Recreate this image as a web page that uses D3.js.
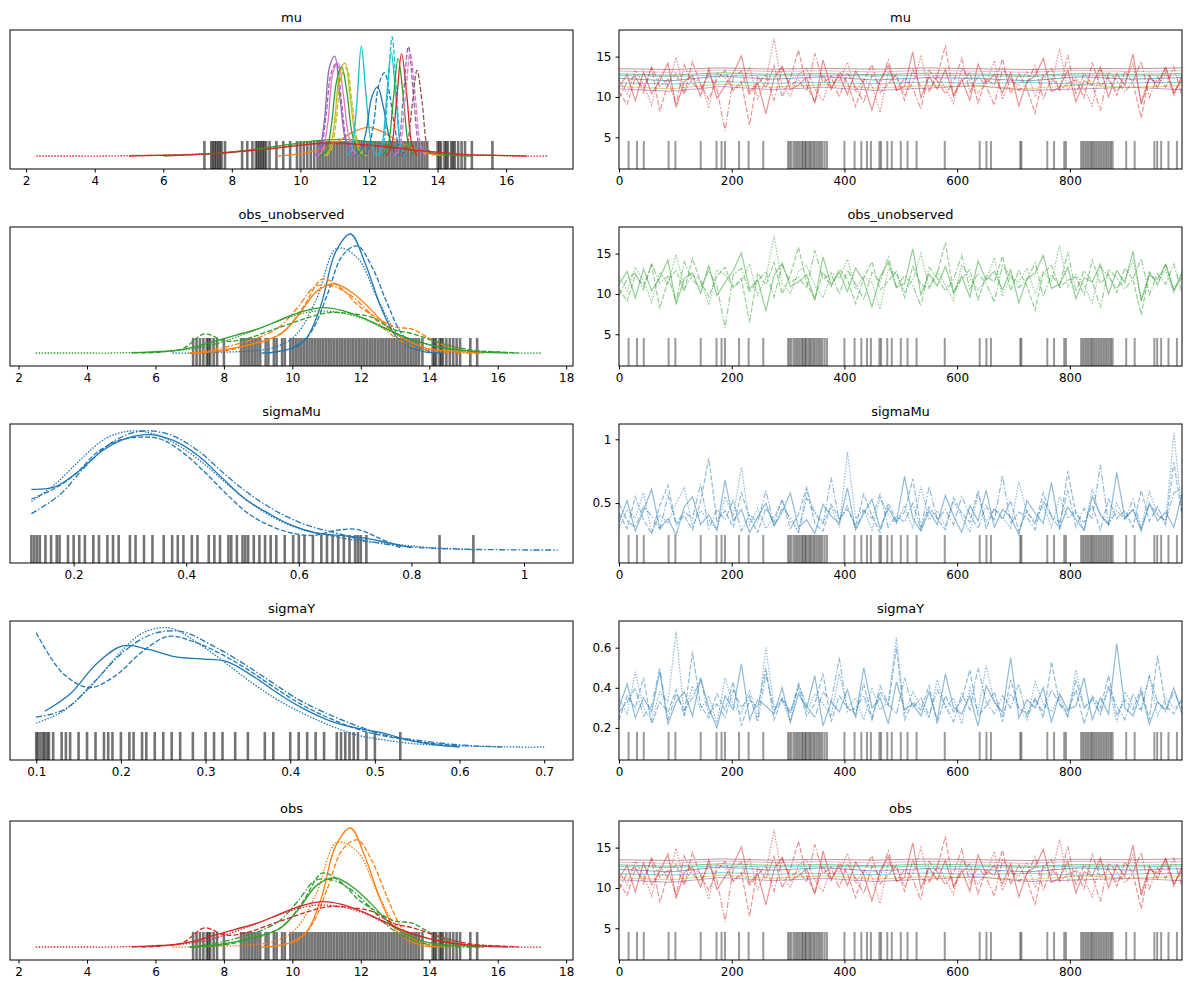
<!DOCTYPE html>
<html><head><meta charset="utf-8">
<script src="https://cdn.jsdelivr.net/npm/d3@7"></script>
<style>body{margin:0;background:#fff}text{font-family:"DejaVu Sans",sans-serif}</style>
</head><body><svg width="1189" height="989"></svg>
<script>
const tab10 = ['#1f77b4','#ff7f0e','#2ca02c','#d62728','#9467bd','#8c564b','#e377c2','#7f7f7f','#bcbd22','#17becf'];
const dashes = [null, '5,2', '1.5,1.5', '6,2,1.5,2'];

const titles = ['mu', 'obs_unobserved', 'sigmaMu', 'sigmaY', 'obs'];

// KDE curves: [x0, x1, chain, colour, densities on an even grid]
const muKde = [
  [2.3, 17.2, 2, 3, [0,0,0,0.005,0.01,0.02,0.04,0.07,0.1,0.1,0.08,0.05,0.02,0.01,0,0]],
  [6.0, 15.0, 0, 2, [0,0.01,0.02,0.04,0.07,0.1,0.13,0.14,0.12,0.08,0.04,0.01,0]],
  [9.3, 14.2, 0, 1, [0,0.01,0.03,0.06,0.12,0.2,0.24,0.2,0.12,0.06,0.02,0]],
  [10.4, 11.6, 0, 4, [0,0.05,0.3,0.75,0.84,0.5,0.15,0.03,0]],
  [10.45, 11.65, 1, 4, [0,0.06,0.35,0.7,0.78,0.45,0.12,0.02,0]],
  [10.5, 11.7, 0, 6, [0,0.05,0.28,0.7,0.78,0.52,0.18,0.04,0]],
  [10.6, 11.8, 0, 2, [0,0.04,0.25,0.62,0.75,0.55,0.2,0.05,0]],
  [10.7, 11.9, 0, 8, [0,0.05,0.3,0.7,0.78,0.5,0.16,0.03,0]],
  [10.75, 11.95, 1, 8, [0,0.05,0.32,0.68,0.74,0.46,0.14,0.03,0]],
  [11.35, 12.2, 0, 9, [0,0.06,0.4,0.92,0.5,0.12,0]],
  [11.6, 12.9, 0, 0, [0,0.05,0.22,0.5,0.58,0.42,0.18,0.04,0]],
  [11.8, 13.1, 1, 0, [0,0.05,0.25,0.6,0.7,0.5,0.2,0.04,0]],
  [12.3, 13.05, 1, 9, [0,0.1,0.55,1.0,0.55,0.1,0]],
  [12.25, 13.05, 0, 9, [0,0.1,0.5,0.87,0.5,0.1,0]],
  [12.4, 13.3, 0, 2, [0,0.08,0.45,0.82,0.5,0.1,0]],
  [12.5, 13.4, 0, 3, [0,0.08,0.45,0.86,0.52,0.1,0]],
  [12.7, 13.6, 1, 4, [0,0.08,0.5,0.92,0.5,0.1,0]],
  [12.75, 13.65, 1, 6, [0,0.08,0.45,0.86,0.5,0.1,0]],
  [12.95, 13.85, 1, 5, [0,0.08,0.4,0.72,0.45,0.08,0]],
  [5.0, 16.6, 0, 3, [0,0.005,0.01,0.02,0.04,0.06,0.09,0.11,0.1,0.08,0.05,0.03,0.01,0.005,0]]
];
const obsKde = [
  [9.1, 14.3, 0, 0, [0,0.01,0.04,0.12,0.4,0.85,1.0,0.75,0.4,0.15,0.05,0.01,0]],
  [9.3, 14.5, 1, 0, [0,0.02,0.06,0.2,0.5,0.82,0.9,0.72,0.42,0.16,0.05,0.01,0]],
  [6.5, 14.9, 2, 0, [0,0,0.005,0.01,0.02,0.05,0.15,0.45,0.88,0.8,0.45,0.15,0.05,0.01,0]],
  [7.0, 15.5, 0, 1, [0,0.01,0.03,0.06,0.1,0.16,0.32,0.52,0.58,0.5,0.36,0.2,0.1,0.04,0.02,0.01,0]],
  [7.2, 15.6, 1, 1, [0,0.01,0.03,0.07,0.11,0.2,0.4,0.62,0.55,0.4,0.3,0.22,0.2,0.12,0.05,0.01,0]],
  [7.0, 15.4, 3, 1, [0,0.02,0.05,0.09,0.14,0.22,0.38,0.56,0.56,0.48,0.34,0.18,0.08,0.03,0.01,0,0]],
  [5.3, 16.3, 0, 2, [0,0.01,0.02,0.05,0.1,0.15,0.2,0.27,0.34,0.38,0.36,0.3,0.22,0.14,0.08,0.04,0.02,0.005,0]],
  [5.6, 16.6, 1, 2, [0,0.01,0.04,0.16,0.1,0.12,0.18,0.24,0.3,0.34,0.33,0.3,0.2,0.16,0.1,0.05,0.02,0.01,0]],
  [2.5, 17.3, 2, 2, [0,0,0,0,0.005,0.01,0.03,0.07,0.14,0.22,0.3,0.35,0.34,0.28,0.18,0.1,0.05,0.02,0.01,0,0]]
];
const sigmaMuKde = [
  [0.125, 0.8, 0, 0, [0.5,0.52,0.65,0.82,0.92,0.95,0.9,0.78,0.6,0.42,0.3,0.2,0.14,0.12,0.1,0.06,0.02]],
  [0.125, 0.78, 1, 0, [0.42,0.5,0.62,0.8,0.9,0.93,0.91,0.8,0.64,0.46,0.3,0.2,0.14,0.12,0.16,0.17,0.1,0.02]],
  [0.125, 0.92, 2, 0, [0.4,0.55,0.75,0.92,0.98,0.95,0.85,0.7,0.52,0.36,0.24,0.16,0.12,0.08,0.06,0.04,0.02,0.01,0]],
  [0.125, 1.06, 3, 0, [0.3,0.45,0.7,0.9,0.98,0.95,0.82,0.62,0.44,0.3,0.2,0.14,0.08,0.04,0.02,0.01,0.005,0.002,0,0]]
];
const sigmaYKde = [
  [0.11, 0.6, 0, 0, [0.3,0.45,0.7,0.85,0.82,0.76,0.74,0.72,0.6,0.45,0.32,0.22,0.16,0.12,0.06,0.02,0]],
  [0.1, 0.6, 1, 0, [0.96,0.62,0.5,0.6,0.8,0.93,0.88,0.78,0.65,0.5,0.36,0.25,0.16,0.1,0.06,0.03,0.01]],
  [0.1, 0.7, 2, 0, [0.2,0.3,0.5,0.76,0.96,1.0,0.88,0.72,0.55,0.4,0.28,0.18,0.1,0.06,0.03,0.015,0.008,0.004,0,0]],
  [0.1, 0.65, 3, 0, [0.25,0.32,0.55,0.8,0.95,0.97,0.86,0.72,0.56,0.4,0.28,0.18,0.1,0.06,0.03,0.01,0]]
];

// divergence rugs (values)
const sparseMuRug = [7.2,7.4,7.45,7.5,7.55,7.6,7.65,7.7,7.8,8.3,8.45,8.6,8.7,8.75,8.8,8.85,8.9,8.95,9.0,9.1,9.3,9.5,9.7,9.9,10.0,10.1,10.2,10.3,10.4,14.0,14.05,14.1,14.2,14.25,14.3,14.4,14.45,14.5,14.6,14.7,14.8,15.0,15.6];
const sparseObsRug = [7.1,7.2,7.3,7.4,7.5,7.55,7.6,7.7,7.8,8.0,13.8,14.1,14.15,14.2,14.3,14.35,14.4,14.5,14.6,14.7,14.8,14.9,15.2,15.4];
const denseRug = [8.50,8.58,8.66,8.74,8.82,8.90,8.98,9.06,9.22,9.30,9.46,9.54,9.70,9.78,9.94,10.02,10.10,10.18,10.26,10.34,10.42,10.50,10.58,10.66,10.74,10.82,10.90,10.98,11.06,11.14,11.22,11.30,11.38,11.46,11.54,11.62,11.70,11.78,11.86,11.94,12.02,12.10,12.18,12.26,12.34,12.42,12.50,12.58,12.66,12.74,12.82,12.90,12.98,13.06,13.14,13.22,13.30,13.38,13.46,13.54,13.62,13.70];
const sigmaMuRug = [0.125,0.13,0.135,0.14,0.15,0.16,0.17,0.175,0.19,0.2,0.21,0.22,0.235,0.245,0.26,0.27,0.28,0.3,0.31,0.325,0.34,0.36,0.375,0.385,0.395,0.41,0.42,0.44,0.45,0.46,0.475,0.48,0.49,0.5,0.505,0.51,0.52,0.53,0.54,0.55,0.56,0.575,0.59,0.6,0.61,0.625,0.64,0.65,0.66,0.67,0.68,0.69,0.7,0.705,0.71,0.72,0.85,0.91];
const sigmaYRug = [0.1,0.102,0.105,0.108,0.11,0.113,0.115,0.12,0.13,0.135,0.14,0.15,0.16,0.17,0.18,0.185,0.19,0.2,0.21,0.215,0.225,0.23,0.24,0.25,0.26,0.27,0.285,0.3,0.31,0.32,0.335,0.35,0.37,0.38,0.4,0.41,0.42,0.43,0.44,0.455,0.46,0.465,0.47,0.475,0.48,0.49,0.5,0.53];
// divergent draws (iteration index)
const divergentDraws = [17,32,44,88,100,145,173,182,188,213,230,256,300,303,306,310,313,316,319,322,325,327,330,332,335,338,340,343,346,349,352,355,358,361,365,369,400,418,430,440,447,462,465,476,484,500,512,528,578,640,652,660,712,714,760,772,790,793,820,823,826,829,832,835,838,840,843,846,849,852,855,858,861,864,867,870,873,876,900,915,950,955,962,975,990];

// traces
const wide1 = [11.2,12.8,9.5,13.1,10.4,12.0,14.2,8.7,11.9,12.6,10.1,13.5,9.8,11.4,12.9,15.1,10.6,11.8,7.9,12.3,13.8,10.9,11.5,12.4,9.2,14.6,11.1,12.7,10.3,13.2,11.6,8.4,12.1,13.9,10.8,11.3,15.6,9.9,12.5,11.0,13.4,10.2,12.2,9.6,14.1,11.7,12.8,10.5,13.0,8.9,11.9,12.6,14.8,10.7,11.2,13.3,9.4,12.0,11.5,13.7,10.0,12.9,11.4,15.3,9.1,12.3,11.8,13.6,10.4,12.5];
const wide2 = [10.6,9.1,12.4,11.0,13.6,8.2,11.7,12.9,10.3,14.4,11.5,9.7,12.2,13.3,10.8,11.9,6.5,12.6,11.1,13.9,10.0,12.3,15.8,11.4,9.4,12.7,10.9,13.1,11.8,8.8,12.0,14.0,10.5,11.6,12.8,9.6,13.4,11.2,10.7,12.5,16.4,10.1,11.9,13.0,9.3,12.2,11.5,14.7,10.4,12.9,11.0,8.0,12.6,13.5,10.8,11.7,12.1,9.9,14.2,11.3,12.4,10.2,13.2,11.8,7.4,12.7,11.1,13.8,10.6,12.0];
const wide3 = [12.1,10.4,13.3,11.6,9.0,12.7,11.2,14.9,10.7,12.3,11.8,8.6,13.0,12.4,10.9,11.5,13.7,9.8,12.0,17.2,11.3,10.1,12.8,13.5,11.0,9.5,12.6,11.9,14.3,10.6,12.2,11.4,8.1,13.1,12.5,10.3,11.7,15.0,10.8,12.9,11.1,9.2,13.6,12.0,10.5,11.8,14.5,9.7,12.3,11.4,13.2,10.0,12.7,11.6,16.0,10.9,12.4,11.0,8.9,13.4,12.1,10.7,11.9,14.1,9.4,12.6,11.3,13.0,10.2,12.8];
const wide4 = [9.8,11.9,12.6,10.5,13.8,11.3,12.2,9.1,14.0,11.7,10.8,12.9,11.0,5.8,12.4,13.2,10.2,11.6,12.8,9.6,13.6,11.4,12.1,10.7,15.4,11.8,12.5,10.0,13.0,11.2,9.3,12.7,11.5,14.6,10.9,12.3,11.1,8.5,13.3,12.0,10.4,11.8,14.8,10.6,12.6,11.3,9.0,13.5,12.2,10.8,11.7,13.9,9.7,12.4,11.0,15.2,10.3,12.9,11.6,8.3,13.1,12.0,10.6,11.9,14.4,9.9,12.5,11.2,13.7,10.1];
const narrowTraces = [
  [4, [11.0,10.7,11.3,10.9,11.2,10.8,11.1,11.4,10.8,11.0,11.2,10.9]],
  [8, [11.3,11.0,11.6,11.2,11.5,11.1,11.4,11.3,11.0,11.5,11.2,11.4]],
  [9, [11.75,11.6,11.9,11.7,11.8,11.65,11.85,11.7,11.8,11.6,11.75,11.8]],
  [0, [12.3,12.0,12.6,12.2,12.5,12.1,12.4,12.3,12.0,12.5,12.2,12.4]],
  [9, [12.65,12.55,12.75,12.6,12.7,12.6,12.7,12.65,12.55,12.7,12.6,12.7]],
  [2, [12.85,12.7,13.0,12.8,12.9,12.75,12.95,12.85,12.7,12.9,12.8,12.9]],
  [6, [13.2,13.05,13.35,13.15,13.25,13.1,13.3,13.2,13.05,13.3,13.15,13.25]],
  [5, [13.5,13.4,13.6,13.45,13.55,13.45,13.6,13.5,13.4,13.55,13.5,13.6]]
];
const sigmaMu1 = [.35,.52,.28,.44,.61,.3,.38,.25,.47,.55,.33,.41,.29,.68,.36,.45,.27,.39,.5,.32,.43,.58,.31,.37,.26,.49,.4,.34,.62,.29,.42,.53,.3,.46,.35,.71,.38,.28,.44,.33,.56,.4,.27,.48,.36,.6,.31,.45,.39,.25,.52,.42,.34,.66,.3,.47,.37,.29,.55,.41,.33,.74,.38,.45,.28,.5,.36,.43,.31,.57];
const sigmaMu2 = [.42,.3,.55,.37,.26,.48,.64,.33,.4,.29,.51,.85,.36,.44,.31,.58,.39,.27,.46,.35,.53,.3,.41,.62,.34,.28,.49,.38,.45,.32,.57,.4,.27,.5,.36,.43,.69,.31,.47,.38,.29,.54,.42,.35,.6,.3,.46,.37,.52,.28,.44,.33,.58,.39,.3,.75,.41,.35,.48,.29,.53,.38,.44,.31,.6,.36,.47,.33,.82,.4];
const sigmaMu3 = [.3,.45,.38,.58,.27,.41,.34,.5,.62,.32,.44,.37,.29,.55,.4,.78,.33,.46,.3,.39,.52,.36,.28,.6,.43,.35,.47,.31,.9,.38,.45,.29,.54,.41,.34,.48,.3,.63,.37,.44,.32,.51,.4,.27,.57,.35,.46,.39,.3,.67,.42,.36,.49,.31,.55,.38,.44,.28,.61,.4,.34,.5,.37,.45,.3,.59,.41,.35,1.05,.43];
const sigmaMu4 = [.5,.36,.31,.47,.4,.29,.56,.34,.43,.38,.65,.3,.45,.37,.52,.28,.41,.35,.6,.32,.46,.39,.27,.54,.42,.33,.7,.36,.48,.3,.44,.38,.57,.31,.4,.35,.5,.29,.63,.37,.45,.33,.55,.41,.3,.48,.36,.72,.34,.43,.39,.29,.52,.4,.35,.6,.31,.46,.38,.8,.33,.44,.37,.53,.3,.49,.41,.36,.58,.62];
const sigmaY1 = [.3,.42,.25,.35,.28,.48,.22,.33,.38,.26,.45,.3,.2,.36,.29,.52,.24,.34,.31,.27,.4,.23,.37,.3,.46,.21,.33,.28,.39,.25,.5,.3,.35,.22,.43,.29,.32,.26,.38,.24,.47,.3,.27,.36,.21,.41,.33,.28,.55,.25,.34,.3,.4,.23,.37,.29,.31,.45,.24,.35,.27,.62,.3,.26,.38,.22,.33,.29,.4,.27];
const sigmaY2 = [.24,.36,.3,.45,.22,.33,.28,.39,.26,.58,.31,.25,.37,.29,.43,.21,.34,.3,.5,.24,.35,.28,.4,.26,.32,.47,.23,.36,.3,.27,.42,.25,.38,.31,.6,.24,.33,.29,.41,.22,.36,.28,.34,.49,.26,.31,.38,.23,.44,.3,.27,.35,.25,.53,.32,.28,.39,.22,.36,.3,.46,.26,.34,.29,.4,.24,.56,.31,.27,.35];
const sigmaY3 = [.35,.27,.48,.3,.24,.38,.33,.68,.26,.41,.29,.36,.22,.45,.31,.27,.39,.25,.6,.3,.34,.23,.42,.28,.37,.32,.26,.47,.3,.35,.24,.4,.29,.33,.65,.27,.38,.31,.25,.44,.3,.35,.22,.4,.28,.51,.33,.26,.37,.3,.24,.43,.32,.28,.36,.25,.49,.3,.34,.27,.41,.23,.38,.31,.29,.46,.26,.35,.3,.33];
const sigmaY4 = [.28,.33,.4,.26,.31,.5,.24,.37,.29,.35,.44,.27,.32,.25,.39,.3,.36,.23,.47,.29,.34,.27,.42,.31,.25,.38,.33,.55,.28,.3,.36,.24,.41,.32,.27,.45,.3,.35,.26,.39,.31,.23,.37,.29,.5,.33,.27,.36,.3,.42,.25,.34,.28,.39,.32,.26,.44,.3,.35,.27,.4,.31,.24,.37,.29,.46,.33,.28,.38,.3];

const kdeDomains = [[1.53,17.95],[1.75,18.2],[0.087,1.087],[0.069,0.734],[1.75,18.2]];
const kdeTicks = [d3.range(2,17,2), d3.range(2,19,2), [0.2,0.4,0.6,0.8,1.0], [0.1,0.2,0.3,0.4,0.5,0.6,0.7], d3.range(2,19,2)];
const traceDomains = [[1.07,18.3],[1.07,18.3],[0.03,1.12],[0.04,0.733],[1.07,18.3]];
const traceTicks = [[5,10,15],[5,10,15],[0.5,1.0],[0.2,0.4,0.6],[5,10,15]];

const wide = [wide1, wide2, wide3, wide4];
const panels = [
  {kde: muKde, colorMap: null, rug: sparseMuRug.concat(denseRug.filter(v => v >= 10.5)), traces: wide.map((v, i) => [3, i, v]), narrow: true},
  {kde: obsKde, colorMap: [0,1,2], rug: sparseObsRug.concat(denseRug), traces: wide.map((v, i) => [2, i, v]), narrow: false},
  {kde: sigmaMuKde, colorMap: null, rug: sigmaMuRug, traces: [sigmaMu1, sigmaMu2, sigmaMu3, sigmaMu4].map((v, i) => [0, i, v]), narrow: false},
  {kde: sigmaYKde, colorMap: null, rug: sigmaYRug, traces: [sigmaY1, sigmaY2, sigmaY3, sigmaY4].map((v, i) => [0, i, v]), narrow: false},
  {kde: obsKde, colorMap: [1,2,3], rug: sparseObsRug.concat(denseRug), traces: wide.map((v, i) => [3, i, v]), narrow: true}
];

const svg = d3.select('svg');
const tops = [30, 227, 424, 621, 821], H = 139;
const leftX = 10, rightX = 619, W = 563;

function frame(g, x0, y0, title) {
  g.append('text').attr('x', x0 + W / 2).attr('y', y0 - 8).attr('text-anchor', 'middle')
    .attr('font-size', 13).text(title);
}

panels.forEach((p, r) => {
  const y0 = tops[r];
  // left: densities
  const gl = svg.append('g');
  const x = d3.scaleLinear().domain(kdeDomains[r]).range([leftX, leftX + W]);
  const ymax = d3.max(p.kde, c => d3.max(c[4]));
  const y = d3.scaleLinear().domain([0, ymax]).range([y0 + H - 13, y0 + 7]);
  const clipId = 'cl' + r;
  gl.append('clipPath').attr('id', clipId).append('rect').attr('x', leftX).attr('y', y0).attr('width', W).attr('height', H);
  const body = gl.append('g').attr('clip-path', `url(#${clipId})`);
  body.selectAll('line.rug').data(p.rug).join('line')
    .attr('x1', d => x(d)).attr('x2', d => x(d)).attr('y1', y0 + H).attr('y2', y0 + H - 28)
    .attr('stroke', '#000').attr('stroke-opacity', 0.55).attr('stroke-width', 2.6);
  const line = d3.line().curve(d3.curveCatmullRom);
  body.selectAll('path.kde').data(p.kde).join('path')
    .attr('d', c => line(c[4].map((v, i) => [x(c[0] + (c[1] - c[0]) * i / (c[4].length - 1)), y(v)])))
    .attr('fill', 'none').attr('stroke-width', 1.3)
    .attr('stroke', c => tab10[p.colorMap ? p.colorMap[c[3]] : c[3]])
    .attr('stroke-dasharray', c => dashes[c[2]]);
  gl.append('g').attr('transform', `translate(0,${y0 + H})`)
    .call(d3.axisBottom(x).tickValues(kdeTicks[r]).tickSize(3.5).tickPadding(4).tickFormat(d3.format('~g')))
    .call(a => a.select('.domain').remove())
    .selectAll('text').attr('font-size', 12).attr('fill', '#000');
  gl.append('rect').attr('x', leftX).attr('y', y0).attr('width', W).attr('height', H)
    .attr('fill', 'none').attr('stroke', '#000').attr('stroke-width', 1);
  frame(gl, leftX, y0, titles[r]);

  // right: traces
  const gr = svg.append('g');
  const tx = d3.scaleLinear().domain([0, 999]).range([rightX, rightX + W]);
  const ty = d3.scaleLinear().domain(traceDomains[r]).range([y0 + H, y0]);
  const clipR = 'cr' + r;
  gr.append('clipPath').attr('id', clipR).append('rect').attr('x', rightX).attr('y', y0).attr('width', W).attr('height', H);
  const bodyR = gr.append('g').attr('clip-path', `url(#${clipR})`);
  const tline = d3.line();
  if (p.narrow) {
    narrowTraces.forEach(([c, vals]) => {
      bodyR.append('path')
        .attr('d', tline(vals.map((v, i) => [tx(i * 999 / (vals.length - 1)), ty(v)])))
        .attr('fill', 'none').attr('stroke', tab10[c]).attr('stroke-opacity', 0.6).attr('stroke-width', 1);
    });
  }
  p.traces.forEach(([c, ch, vals]) => {
    bodyR.append('path')
      .attr('d', tline(vals.map((v, i) => [tx(i * 999 / (vals.length - 1)), ty(v)])))
      .attr('fill', 'none').attr('stroke', tab10[c]).attr('stroke-opacity', 0.5)
      .attr('stroke-width', 1.2).attr('stroke-dasharray', dashes[ch]);
  });
  bodyR.selectAll('line.div').data(divergentDraws).join('line')
    .attr('x1', d => tx(d)).attr('x2', d => tx(d)).attr('y1', y0 + H).attr('y2', y0 + H - 28)
    .attr('stroke', '#000').attr('stroke-opacity', 0.4).attr('stroke-width', 2);
  gr.append('g').attr('transform', `translate(0,${y0 + H})`)
    .call(d3.axisBottom(tx).tickValues([0, 200, 400, 600, 800]).tickSize(3.5).tickPadding(4))
    .call(a => a.select('.domain').remove())
    .selectAll('text').attr('font-size', 12).attr('fill', '#000');
  gr.append('g').attr('transform', `translate(${rightX},0)`)
    .call(d3.axisLeft(ty).tickValues(traceTicks[r]).tickSize(3.5).tickPadding(4).tickFormat(d3.format('.1~f')))
    .call(a => a.select('.domain').remove())
    .selectAll('text').attr('font-size', 12).attr('fill', '#000');
  gr.append('rect').attr('x', rightX).attr('y', y0).attr('width', W).attr('height', H)
    .attr('fill', 'none').attr('stroke', '#000').attr('stroke-width', 1);
  frame(gr, rightX, y0, titles[r]);
});
</script></body></html>
